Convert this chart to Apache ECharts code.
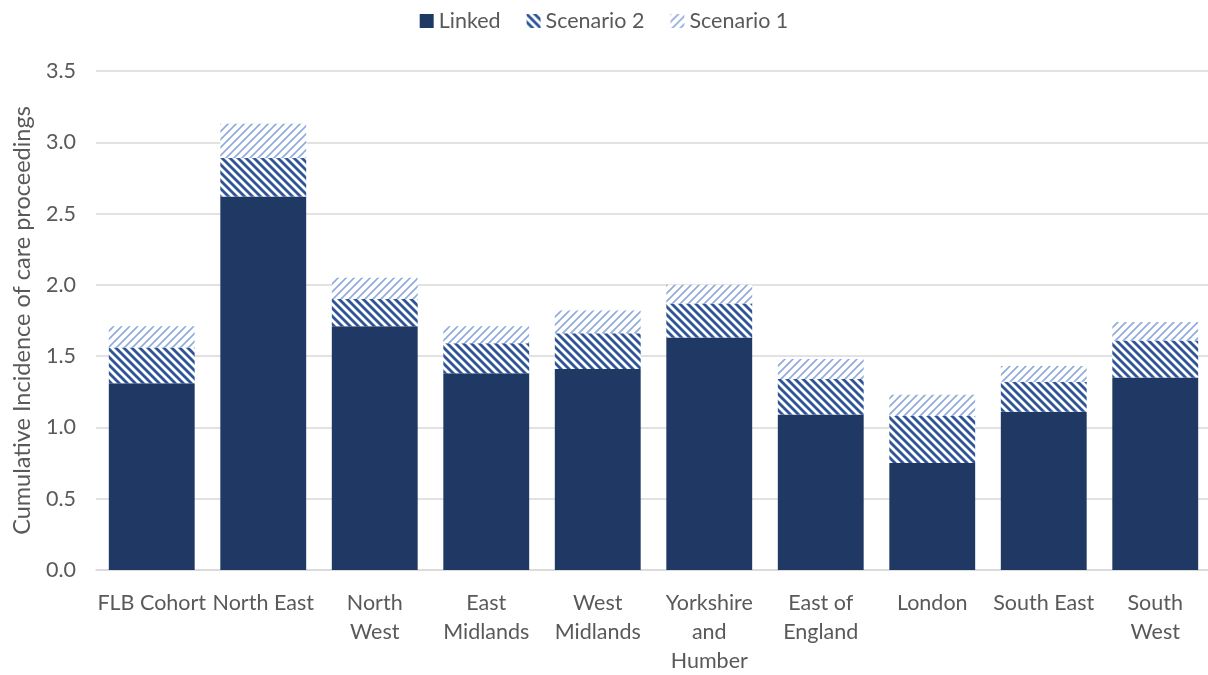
<!DOCTYPE html>
<html><head><meta charset="utf-8">
<script src="https://cdn.jsdelivr.net/npm/echarts@6/dist/echarts.min.js"></script>
<style>html,body{margin:0;padding:0;background:#fff}#c{width:1208px;height:675px}</style>
</head><body><div id="c"></div>
<script>
const categories = ['FLB Cohort','North East','North\nWest','East\nMidlands','West\nMidlands','Yorkshire\nand\nHumber','East of\nEngland','London','South East','South\nWest'];
const linked    = [1.31, 2.62, 1.71, 1.38, 1.41, 1.63, 1.09, 0.75, 1.11, 1.35];
const scenario2 = [0.25, 0.27, 0.19, 0.21, 0.25, 0.24, 0.25, 0.33, 0.21, 0.26];
const scenario1 = [0.15, 0.24, 0.15, 0.12, 0.16, 0.13, 0.14, 0.15, 0.11, 0.13];
const yTicks = [0, 0.5, 1, 1.5, 2, 2.5, 3, 3.5];

function stripe(color, dir, width) {
  const s = 8;
  const c = document.createElement('canvas');
  c.width = s; c.height = s;
  const g = c.getContext('2d');
  g.fillStyle = '#fff'; g.fillRect(0,0,s,s);
  g.strokeStyle = color; g.lineWidth = width; g.lineCap = 'square';
  for (let k = -1; k <= 1; k++) {
    g.beginPath();
    if (dir === 'down') { g.moveTo(k*s, 0); g.lineTo(k*s + s, s); }
    else { g.moveTo(k*s, s); g.lineTo(k*s + s, 0); }
    g.stroke();
  }
  return {image: c, repeat: 'repeat'};
}

const font = 'Lato';
const chart = echarts.init(document.getElementById('c'), null, {renderer: 'canvas'});
chart.setOption({
  animation: false,
  textStyle: {fontFamily: font},
  legend: {
    top: 5, left: 'center', itemWidth: 14, itemHeight: 14, itemGap: 26, icon: 'rect',
    textStyle: {fontFamily: font, fontSize: 21.5, color: '#595959'},
    data: ['Linked','Scenario 2','Scenario 1']
  },
  grid: {left: 96, width: 1115, top: 71, bottom: 105, outerBoundsMode: 'none', containLabel: false},
  xAxis: {
    type: 'category', data: categories,
    axisLine: {lineStyle: {color: '#d9d9d9', width: 1.5}},
    axisTick: {show: false},
    axisLabel: {fontFamily: font, fontSize: 21.5, color: '#595959', lineHeight: 29, margin: 19, interval: 0}
  },
  yAxis: {
    type: 'value', min: yTicks[0], max: yTicks[yTicks.length-1], interval: 0.5,
    name: 'Cumulative Incidence of care proceedings', nameLocation: 'middle', nameGap: 62,
    nameTextStyle: {fontFamily: font, fontSize: 23.5, color: '#595959'},
    axisLine: {show: false}, axisTick: {show: false},
    axisLabel: {fontFamily: font, fontSize: 21.5, color: '#595959', margin: 20, formatter: v => v.toFixed(1)},
    splitLine: {lineStyle: {color: '#d9d9d9', width: 1.5}}
  },
  series: [
    {name: 'Linked', type: 'bar', stack: 's', data: linked, barCategoryGap: '23%', itemStyle: {color: '#203864'}},
    {name: 'Scenario 2', type: 'bar', stack: 's', data: scenario2, itemStyle: {color: stripe('#2f5597', 'down', 2.8)}},
    {name: 'Scenario 1', type: 'bar', stack: 's', data: scenario1, itemStyle: {color: stripe('#8faadc', 'up', 1.6)}}
  ]
});
</script></body></html>
